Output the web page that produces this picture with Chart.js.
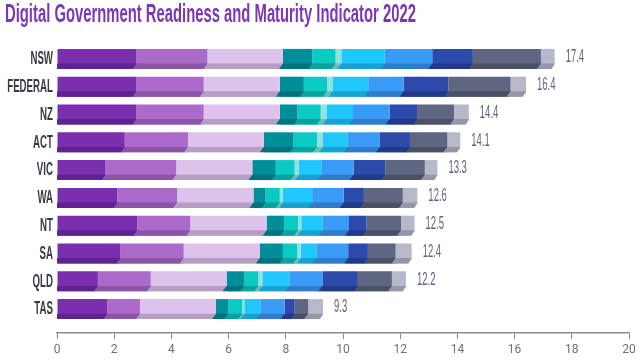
<!DOCTYPE html>
<html>
<head>
<meta charset="utf-8">
<title>Digital Government Readiness and Maturity Indicator 2022</title>
<script src="https://cdn.jsdelivr.net/npm/chart.js@4.4.1/dist/chart.umd.min.js"></script>
<style>
  html, body { margin: 0; padding: 0; background: #ffffff; }
  #wrap { width: 640px; height: 360px; position: relative; }
</style>
</head>
<body>
<div id="wrap"><canvas id="chart"></canvas></div>
<script>
const TITLE = 'Digital Government Readiness and Maturity Indicator 2022';

const categories = ['NSW', 'FEDERAL', 'NZ', 'ACT', 'VIC', 'WA', 'NT', 'SA', 'QLD', 'TAS'];
const totals = ['17.4', '16.4', '14.4', '14.1', '13.3', '12.6', '12.5', '12.4', '12.2', '9.3'];
const xTickValues = [0, 2, 4, 6, 8, 10, 12, 14, 16, 18, 20];

// one array per stacked segment, left to right, values per jurisdiction
const seg1 = [2.78, 2.78, 2.78, 2.37, 1.70, 2.11, 2.81, 2.22, 1.43, 1.76];
const seg2 = [2.48, 2.35, 2.35, 2.21, 2.47, 2.09, 1.85, 2.21, 1.85, 1.14];
const seg3 = [2.64, 2.66, 2.66, 2.65, 2.66, 2.67, 2.67, 2.66, 2.65, 2.66];
const seg4 = [1.03, 0.84, 0.62, 1.04, 0.82, 0.42, 0.61, 0.81, 0.61, 0.42];
const seg5 = [0.81, 0.81, 0.81, 0.82, 0.66, 0.50, 0.49, 0.50, 0.50, 0.50];
const seg6 = [0.20, 0.19, 0.20, 0.21, 0.15, 0.11, 0.11, 0.12, 0.14, 0.07];
const seg7 = [1.52, 1.25, 0.93, 0.85, 0.78, 1.02, 0.74, 0.55, 0.96, 0.56];
const seg8 = [1.66, 1.24, 1.28, 1.14, 1.13, 1.10, 0.93, 1.11, 1.14, 0.85];
const seg9 = [1.42, 1.56, 0.96, 1.05, 1.11, 0.71, 0.61, 0.69, 1.24, 0.35];
const seg10 = [2.38, 2.18, 1.29, 1.31, 1.38, 1.36, 1.21, 0.97, 1.19, 0.47];
const seg11 = [0.48, 0.54, 0.52, 0.45, 0.44, 0.51, 0.47, 0.56, 0.49, 0.52];

const segments = [seg1, seg2, seg3, seg4, seg5, seg6, seg7, seg8, seg9, seg10, seg11];

const faceColors = ['#7b2faf', '#ac6bcb', '#ddc2ec', '#008e9b', '#0bc9c3', '#8fe2de',
  '#1fc7fc', '#3a9bf7', '#2b4aa9', '#5e6681', '#b7b9cb'];
const edgeColors = ['#5e2390', '#8b55a6', '#b59dc4', '#00727d', '#09a29e', '#6dbdba',
  '#18a2cf', '#2e7ccb', '#203a89', '#4a5066', '#9597a9'];

const SHADE_RATIO = 0.27;
const SLANT = 4;

function drawSquashed(ctx, text, x, y, font, color, squeeze, align, baseline) {
  ctx.save();
  ctx.font = font;
  ctx.fillStyle = color;
  ctx.textAlign = align;
  ctx.textBaseline = baseline || 'middle';
  ctx.translate(x, y);
  ctx.scale(squeeze, 1);
  ctx.fillText(text, 0, 0);
  ctx.restore();
}

// darker underside of every segment, slanted like a box seen from below
const bevelPlugin = {
  id: 'bevel',
  afterDatasetsDraw(chart) {
    const { ctx, chartArea, scales } = chart;
    const x0 = scales.x.getPixelForValue(0);
    const last = chart.data.datasets.length - 1;
    ctx.save();
    ctx.beginPath();
    ctx.rect(x0, chartArea.top, chartArea.right - x0 + 20, chartArea.bottom - chartArea.top);
    ctx.clip();
    chart.data.datasets.forEach((ds, di) => {
      const meta = chart.getDatasetMeta(di);
      meta.data.forEach((bar) => {
        const { x, y, base, height } = bar.getProps(['x', 'y', 'base', 'height'], true);
        const left = Math.min(x, base);
        const right = Math.max(x, base);
        const bottom = y + height / 2;
        const top = bottom - height * SHADE_RATIO;
        ctx.fillStyle = edgeColors[di];
        ctx.beginPath();
        ctx.moveTo(left, top);
        ctx.lineTo(right + 0.5, top);
        ctx.lineTo(right - SLANT + 0.5, bottom);
        ctx.lineTo(left - SLANT, bottom);
        ctx.closePath();
        ctx.fill();
        if (di === last) {
          ctx.fillStyle = '#ffffff';
          ctx.beginPath();
          ctx.moveTo(right + 0.5, top);
          ctx.lineTo(right + 1, top);
          ctx.lineTo(right + 1, bottom + 1);
          ctx.lineTo(right - SLANT + 0.5, bottom + 1);
          ctx.closePath();
          ctx.fill();
        }
      });
    });
    ctx.restore();
  },
};

const labelPlugin = {
  id: 'labels',
  afterDraw(chart) {
    const { ctx, chartArea, scales } = chart;
    const last = chart.getDatasetMeta(chart.data.datasets.length - 1);

    drawSquashed(ctx, TITLE, 5, 22, 'bold 26px "Liberation Sans"', '#7c37b4', 0.57, 'left', 'alphabetic');

    categories.forEach((name, i) => {
      const y = scales.y.getPixelForValue(i);
      drawSquashed(ctx, name, chartArea.left - 4, y, 'bold 19px "Liberation Sans"', '#3a3a44', 0.51, 'right');
      const end = last.data[i].getProps(['x'], true).x;
      drawSquashed(ctx, totals[i], end + 11, y - 2, '19px "Liberation Sans"', '#5e6480', 0.5, 'left');
    });
  },
};

const datasets = segments.map((values, si) => ({
  label: 'Segment ' + (si + 1),
  data: values.map((v, i) => ({ x: v, y: i })),
  backgroundColor: faceColors[si],
  borderWidth: 0,
  barPercentage: 0.9,
  categoryPercentage: 0.8,
}));

new Chart(document.getElementById('chart').getContext('2d'), {
  type: 'bar',
  data: { datasets },
  options: {
    indexAxis: 'y',
    responsive: true,
    maintainAspectRatio: false,
    animation: false,
    layout: { padding: { top: 45, left: 57, right: 11, bottom: 0 } },
    plugins: {
      legend: { display: false },
      tooltip: { enabled: false },
    },
    scales: {
      x: {
        type: 'linear',
        stacked: true,
        min: 0,
        max: 20,
        afterBuildTicks: (scale) => {
          scale.ticks = xTickValues.map((v) => ({ value: v }));
        },
        afterFit: (scale) => {
          scale.height = 27;
        },
        grid: { drawOnChartArea: false, drawTicks: true, tickLength: 6, color: '#8a8a8a' },
        border: { display: true, color: '#8a8a8a', width: 1.5 },
        ticks: {
          padding: 4,
          color: '#707070',
          font: { family: 'Roboto', size: 12 },
        },
      },
      y: {
        type: 'linear',
        stacked: true,
        reverse: true,
        offset: false,
        grid: { offset: false },
        min: -0.5,
        max: 9.86,
        afterBuildTicks: (scale) => {
          scale.ticks = categories.map((c, i) => ({ value: i }));
        },
        display: false,
      },
    },
  },
  plugins: [bevelPlugin, labelPlugin],
});
</script>
</body>
</html>
